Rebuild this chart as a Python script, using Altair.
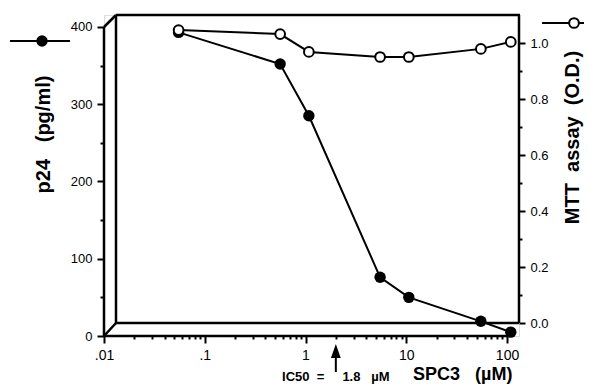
import altair as alt
import pandas as pd

# ---- data ----
conc_uM = [0.055, 0.56, 1.08, 5.5, 10.6, 55, 109]
p24_pg_ml = [393, 352, 285, 76, 50, 19, 5]
mtt_od = [1.046, 1.032, 0.968, 0.95, 0.95, 0.979, 1.004]

x_tick_values = sorted(set(round(m * 10.0 ** e, 6) for e in range(-2, 2) for m in range(1, 10)) | {100.0})
p24_tick_values = list(range(0, 401, 50))
mtt_tick_values = [round(i * 0.1, 1) for i in range(11)]

ic50_text = "IC50\u00a0\u00a0=\u00a0\u00a0\u00a0\u00a0\u00a01.8\u00a0\u00a0\u00a0\u00b5M"
arrow_conc = [2.0]
x_title = "SPC3\u00a0\u00a0\u00a0(\u00b5M)"
left_title = "p24\u00a0\u00a0\u00a0(pg/ml)"
right_title = "MTT\u00a0\u00a0assay\u00a0\u00a0(O.D.)"

F = "Liberation Sans"
W, H = 415, 321

df = pd.DataFrame({"conc": conc_uM, "p24": p24_pg_ml, "mtt": mtt_od})
df_arrow = pd.DataFrame({"conc": arrow_conc, "label": [ic50_text]})
one = pd.DataFrame({"a": [0]})

major_x = "datum.value==0.01||datum.value==0.1||datum.value==1||datum.value==10||datum.value==100"
xenc = alt.X(
    "conc:Q",
    scale=alt.Scale(type="log", domain=[0.01, 131.5], nice=False),
    axis=alt.Axis(
        values=x_tick_values,
        labelExpr="datum.value==0.01?'.01':datum.value==0.1?'.1':(" + major_x + ")?format(datum.value,'d'):''",
        tickSize={"condition": {"test": major_x, "value": 7}, "value": 3},
        tickWidth=2, tickColor="black", domain=False, grid=False,
        labelFont=F, labelFontSize=14, labelColor="black", labelPadding=5,
        labelFlush=False, labelOverlap=False, title=None,
    ),
)

yleft = alt.Y(
    "p24:Q",
    scale=alt.Scale(domain=[0, 415.5], nice=False, zero=False),
    axis=alt.Axis(
        orient="left", values=p24_tick_values,
        labelExpr="datum.value % 100 == 0 ? datum.label : ''",
        tickSize={"condition": {"test": "datum.value % 100 == 0", "value": 7}, "value": 4},
        tickWidth=2, tickColor="black", domain=False, grid=False,
        labelFont=F, labelFontSize=13, labelColor="black", labelPadding=5,
        labelFlush=False, labelOverlap=False,
        title=left_title, titleAngle=270, titleX=-61, titleY=119,
        titleAlign="center", titleBaseline="middle",
        titleFont=F, titleFontSize=20, titleFontWeight="bold", titleColor="black",
    ),
)

yright = alt.Y(
    "mtt:Q",
    scale=alt.Scale(domain=[-0.0464, 1.1], nice=False, zero=False),
    axis=alt.Axis(
        orient="right", values=mtt_tick_values,
        labelExpr="round(datum.value*10) % 2 == 0 ? format(datum.value, '.1f') : ''",
        tickSize={"condition": {"test": "round(datum.value*10) % 2 == 0", "value": 6}, "value": 3},
        tickWidth=2, tickColor="black", domain=False, grid=False,
        labelFont=F, labelFontSize=13, labelColor="black", labelPadding=5,
        labelFlush=False, labelOverlap=False,
        title=right_title, titleAngle=270, titleX=53, titleY=122,
        titleAlign="center", titleBaseline="middle",
        titleFont=F, titleFontSize=20, titleFontWeight="bold", titleColor="black",
    ),
)

# ---- decorative 3D frame (pixel positions of the box) ----
segments = [
    (0, 12, 0, 321), (0, 321, 404, 321), (0, 12, 12, 0), (12, 0, 416, 0),
    (12, 0, 12, 308), (12, 308, 415, 308), (0, 321, 12, 308), (415, 0, 415, 308),
]
frame = [
    alt.Chart(one).mark_rule(color="black", strokeWidth=2.5).encode(
        x=alt.value(a), y=alt.value(b), x2=alt.value(c), y2=alt.value(d)
    )
    for a, b, c, d in segments
]

base = alt.Chart(df)
left = alt.layer(
    base.mark_line(color="black", strokeWidth=2).encode(x=xenc, y=yleft),
    base.mark_point(filled=True, color="black", size=130, opacity=1).encode(x=xenc, y=yleft),
)
right = alt.layer(
    base.mark_line(color="black", strokeWidth=2).encode(x=xenc, y=yright),
    base.mark_point(filled=True, fill="white", stroke="black", strokeWidth=2, size=95, opacity=1).encode(x=xenc, y=yright),
)

# legend keys
keys = [
    alt.Chart(one).mark_rule(color="black", strokeWidth=2).encode(
        x=alt.value(-94), x2=alt.value(-34), y=alt.value(26)),
    alt.Chart(one).mark_point(filled=True, color="black", size=130, opacity=1).encode(
        x=alt.value(-62), y=alt.value(26)),
    alt.Chart(one).mark_rule(color="black", strokeWidth=2).encode(
        x=alt.value(438), x2=alt.value(490), y=alt.value(8)),
    alt.Chart(one).mark_point(filled=True, fill="white", stroke="black", strokeWidth=2, size=95, opacity=1).encode(
        x=alt.value(470), y=alt.value(8)),
]

# annotations
abase = alt.Chart(df_arrow)
annots = [
    abase.mark_rule(color="black", strokeWidth=2).encode(x=xenc, y=alt.value(338), y2=alt.value(357)),
    abase.mark_point(shape="M-0.7,1L0,-1L0.7,1Z", filled=True, color="black", size=196, opacity=1).encode(
        x=xenc, y=alt.value(336)),
    abase.mark_text(font=F, fontSize=13, fontWeight="bold", align="center", baseline="alphabetic", color="black").encode(
        x=xenc, y=alt.value(366), text="label:N"),
    alt.Chart(one).mark_text(font=F, fontSize=18, fontWeight="bold", align="left", baseline="alphabetic", color="black").encode(
        x=alt.value(309), y=alt.value(365), text=alt.value(x_title)),
]

chart = alt.layer(*frame, left, right, *keys, *annots).resolve_scale(y="independent").properties(
    width=W, height=H,
    autosize=alt.AutoSizeParams(type="none"),
    padding={"left": 96, "top": 7, "right": 65, "bottom": 48},
).configure_view(stroke=None).configure(font=F)

chart.save("out.html", embed_options={"renderer": "svg", "actions": False})
